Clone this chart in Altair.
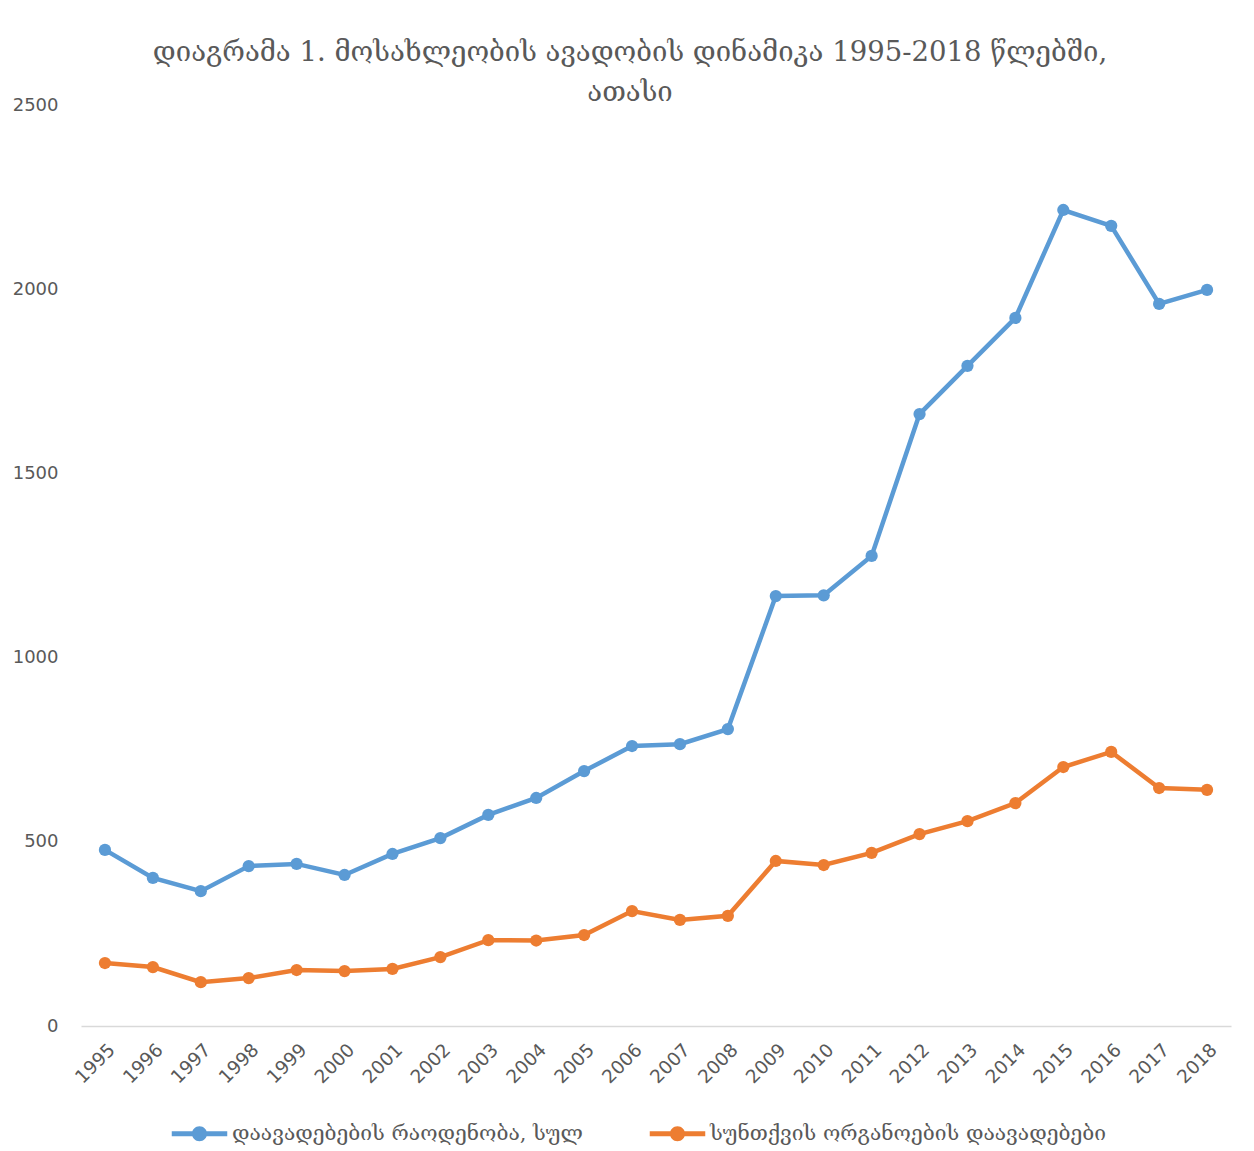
import altair as alt
import pandas as pd

years = [str(y) for y in range(1995, 2019)]
total = [478, 402, 366, 434, 440, 410, 467, 510, 573, 619, 692, 760, 765, 806,
         1167, 1169, 1276, 1661, 1792, 1922, 2215, 2172, 1960, 1998]
circ = [171, 160, 119, 130, 152, 149, 155, 187, 233, 232, 247, 312, 288, 299,
        448, 437, 470, 521, 556, 605, 703, 744, 646, 641]
series = ["დაავადებების რაოდენობა, სულ", "სუნთქვის ორგანოების დაავადებები"]
colors = ["#5B9BD5", "#ED7D31"]
title_lines = ["დიაგრამა 1. მოსახლეობის ავადობის დინამიკა 1995-2018 წლებში,", "ათასი"]

df = pd.concat([
    pd.DataFrame({"year": years, "value": total, "series": series[0]}),
    pd.DataFrame({"year": years, "value": circ, "series": series[1]}),
])

legend_path = ("M-3.7,-0.33L-0.9,-0.33L-0.9,0.33L-3.7,0.33Z "
               "M0.9,-0.33L3.7,-0.33L3.7,0.33L0.9,0.33Z "
               "M1,0A1,1 0 1,1 -1,0A1,1 0 1,1 1,0Z")

x = alt.X("year:N", sort=years, title=None,
          scale=alt.Scale(paddingInner=0, paddingOuter=0.5),
          axis=alt.Axis(labelAngle=-45, labelFont="DejaVu Sans", labelFontSize=18.5,
                        labelColor="#595959", ticks=False, domainColor="#D9D9D9",
                        domainWidth=1.5, labelPadding=14, grid=False))
y = alt.Y("value:Q", title=None,
          scale=alt.Scale(domain=[0, 2500], nice=False),
          axis=alt.Axis(values=[0, 500, 1000, 1500, 2000, 2500], format="d",
                        labelFont="DejaVu Sans", labelFontSize=18, labelColor="#595959",
                        ticks=False, domain=False, grid=False, labelPadding=23))
color = alt.Color("series:N", sort=series,
                  scale=alt.Scale(domain=series, range=colors),
                  legend=alt.Legend(title=None, orient="none", direction="horizontal",
                                    legendX=108, legendY=1018,
                                    symbolType=legend_path, symbolSize=225,
                                    symbolStrokeWidth=0, symbolOpacity=1,
                                    labelFont="DejaVu Serif", labelFontSize=21,
                                    labelColor="#595959", labelOffset=22,
                                    columnPadding=66, labelLimit=500))

base = alt.Chart(df)
lines = base.mark_line(strokeWidth=4.5).encode(x=x, y=y, color=color)
pts = base.mark_circle(size=150, opacity=1).encode(
    x=x, y=y,
    color=alt.Color("series:N", sort=series,
                    scale=alt.Scale(domain=series, range=colors), legend=None))

chart = alt.layer(lines, pts).properties(
    width=1150, height=921,
    autosize=alt.AutoSizeParams(type="none"),
    padding={"left": 73, "top": 97, "right": 15, "bottom": 125},
    title=alt.TitleParams(title_lines, anchor="middle", dx=-26, dy=10, offset=0,
                          font="DejaVu Serif", fontSize=27.5, fontWeight="normal",
                          color="#595959", lineHeight=40),
).configure_view(stroke=None)

chart.save("out.html", embed_options={"renderer": "svg", "actions": False})
